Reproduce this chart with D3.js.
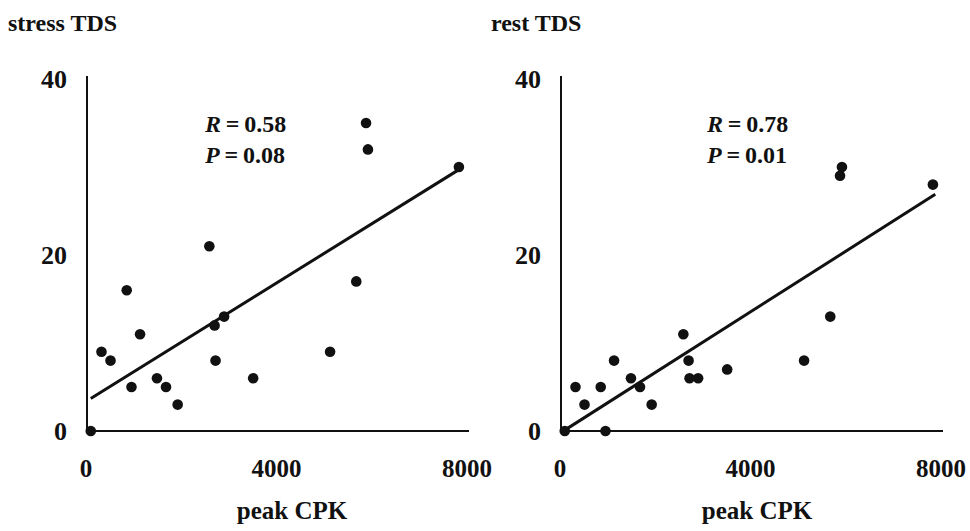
<!DOCTYPE html>
<html>
<head>
<meta charset="utf-8">
<script src="https://cdn.jsdelivr.net/npm/d3@7"></script>
<style>
  body { margin: 0; background: #fff; }
</style>
</head>
<body>
<svg id="chart" width="970" height="531" font-family="'Liberation Serif', 'Times New Roman', Times, serif" font-weight="bold"></svg>
<script>
// peak CPK per patient (shared by both panels)
const peakCPK = [100, 325, 515, 855, 955, 1135, 1490, 1680, 1925, 2590, 2700, 2720, 2900, 3510, 5125, 5675, 5880, 5920, 7830];
const stressTDS = [0, 9, 8, 16, 5, 11, 6, 5, 3, 21, 12, 8, 13, 6, 9, 17, 35, 32, 30];
const restTDS = [0, 5, 3, 5, 0, 8, 6, 5, 3, 11, 8, 6, 6, 7, 8, 13, 29, 30, 28];

// regression line end points [cpk, tds]
const stressFit = [[100, 3.7], [7830, 29.7]];
const restFit = [[100, 0.1], [7880, 26.9]];

const xTicks = [0, 4000, 8000];
const yTicks = [0, 20, 40];

const panels = [
  { title: "stress TDS", y: stressTDS, fit: stressFit, R: "0.58", P: "0.08", x0: 86, titleX: 8, statX: 205, labelX: 292 },
  { title: "rest TDS", y: restTDS, fit: restFit, R: "0.78", P: "0.01", x0: 560, titleX: 491, statX: 707, labelX: 757 }
];

const svg = d3.select("#chart");
const axisW = 381;

panels.forEach(p => {
  const x = d3.scaleLinear().domain([0, 8000]).range([p.x0, p.x0 + axisW]);
  const y = d3.scaleLinear().domain([0, 40]).range([431, 79]);
  const g = svg.append("g").attr("fill", "#111");

  g.append("text").attr("x", p.titleX).attr("y", 31)
    .attr("font-size", 24).text(p.title);

  // axes as plain lines
  g.append("line")
    .attr("x1", x(0) + 1).attr("x2", x(0) + 1)
    .attr("y1", 76).attr("y2", y(0))
    .attr("stroke", "#111").attr("stroke-width", 2);
  g.append("line")
    .attr("x1", x(0)).attr("x2", x(8000) + 2)
    .attr("y1", y(0)).attr("y2", y(0))
    .attr("stroke", "#111").attr("stroke-width", 2);

  g.selectAll(".yt").data(yTicks).enter().append("text")
    .attr("x", x(0) - 19).attr("y", d => y(d) + 9)
    .attr("text-anchor", "end")
    .attr("font-size", 26)
    .text(d => d);

  g.selectAll(".xt").data(xTicks).enter().append("text")
    .attr("x", d => x(d)).attr("y", 477)
    .attr("text-anchor", "middle")
    .attr("font-size", 25)
    .text(d => d);

  g.append("text").attr("x", p.labelX).attr("y", 519)
    .attr("text-anchor", "middle")
    .attr("font-size", 25).text("peak CPK");

  // trend line
  g.append("path")
    .datum(p.fit)
    .attr("d", d3.line().x(d => x(d[0])).y(d => y(d[1])))
    .attr("fill", "none").attr("stroke", "#111").attr("stroke-width", 3);

  g.selectAll("circle").data(peakCPK).enter().append("circle")
    .attr("cx", d => x(d))
    .attr("cy", (d, i) => y(p.y[i]))
    .attr("r", 5.3)
    .attr("fill", "#111");

  const st = g.append("text").attr("x", p.statX).attr("y", 132).attr("font-size", 24);
  st.append("tspan").attr("font-style", "italic").text("R");
  st.append("tspan").text("\u2009=\u2009" + p.R);
  const st2 = g.append("text").attr("x", p.statX).attr("y", 163).attr("font-size", 24);
  st2.append("tspan").attr("font-style", "italic").text("P");
  st2.append("tspan").text("\u2009=\u2009" + p.P);
});
</script>
</body>
</html>
